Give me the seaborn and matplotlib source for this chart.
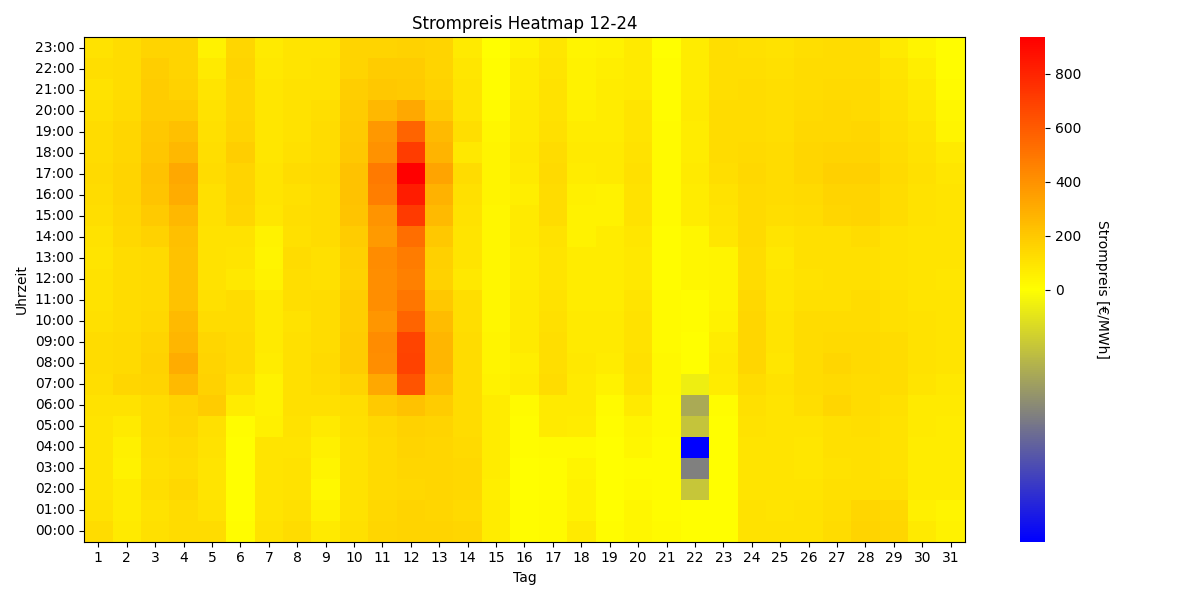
import numpy as np
import pandas as pd
import matplotlib
matplotlib.use('Agg')
import matplotlib.pyplot as plt
import seaborn as sns
from matplotlib.colors import LinearSegmentedColormap, TwoSlopeNorm

# Strompreise Dezember 2024, je Tag Stunde 00..23 (EUR/MWh), aus dem Bild geschaetzt
d01 = [125, 105, 100, 98, 97, 102, 108, 122, 130, 128, 112, 108, 104, 102, 105, 120, 126, 132, 130, 126, 112, 108, 118, 104]
d02 = [80, 72, 68, 50, 55, 75, 105, 150, 135, 132, 128, 125, 126, 130, 145, 150, 155, 158, 150, 148, 135, 130, 128, 125]
d03 = [110, 108, 120, 112, 122, 125, 130, 160, 165, 160, 140, 135, 132, 138, 165, 195, 215, 225, 212, 200, 190, 185, 180, 158]
d04 = [130, 125, 145, 128, 132, 150, 160, 250, 305, 270, 255, 225, 222, 225, 230, 258, 300, 315, 262, 228, 190, 165, 160, 155]
d05 = [125, 105, 100, 102, 105, 110, 185, 165, 160, 150, 130, 110, 108, 105, 104, 110, 112, 125, 122, 110, 106, 100, 80, 45]
d06 = [8, 5, 3, 4, 6, 10, 70, 110, 135, 132, 128, 125, 85, 100, 105, 150, 155, 160, 180, 158, 150, 152, 155, 150]
d07 = [105, 102, 100, 100, 98, 55, 50, 45, 72, 75, 78, 80, 45, 42, 48, 92, 96, 98, 95, 92, 90, 88, 85, 78]
d08 = [125, 110, 105, 104, 102, 106, 112, 115, 112, 110, 108, 120, 122, 125, 112, 120, 115, 125, 110, 108, 106, 104, 102, 100]
d09 = [80, 50, 25, 40, 55, 80, 110, 128, 132, 130, 128, 125, 110, 112, 125, 130, 128, 132, 130, 125, 120, 108, 105, 100]
d10 = [112, 108, 105, 104, 108, 115, 118, 160, 190, 188, 182, 178, 165, 175, 185, 215, 220, 225, 200, 195, 185, 180, 160, 155]
d11 = [150, 140, 135, 132, 135, 140, 195, 320, 410, 420, 385, 410, 415, 420, 370, 390, 470, 485, 400, 380, 260, 200, 190, 160]
d12 = [160, 155, 140, 150, 158, 165, 225, 625, 690, 685, 570, 500, 465, 480, 530, 720, 830, 936, 710, 565, 315, 195, 188, 162]
d13 = [158, 152, 150, 150, 152, 160, 190, 235, 270, 265, 245, 200, 165, 170, 200, 255, 280, 330, 275, 255, 195, 165, 160, 158]
d14 = [148, 132, 140, 145, 135, 130, 128, 126, 125, 128, 124, 120, 82, 98, 100, 105, 110, 125, 85, 120, 100, 98, 95, 80]
d15 = [70, 68, 65, 66, 70, 72, 68, 45, 40, 38, 35, 32, 30, 30, 32, 35, 40, 42, 38, 35, 15, 10, 8, 6]
d16 = [10, 8, 6, 5, 8, 12, 15, 70, 60, 75, 78, 76, 72, 70, 74, 78, 60, 80, 82, 78, 76, 72, 70, 50]
d17 = [20, 15, 12, 10, 15, 75, 80, 125, 122, 120, 110, 105, 100, 102, 105, 125, 130, 132, 125, 110, 108, 105, 100, 95]
d18 = [78, 50, 45, 40, 20, 70, 75, 80, 82, 78, 75, 72, 70, 68, 50, 48, 52, 72, 75, 70, 55, 48, 45, 40]
d19 = [8, 6, 5, 4, 5, 8, 15, 45, 72, 75, 76, 72, 70, 72, 70, 50, 48, 75, 78, 72, 70, 68, 65, 45]
d20 = [35, 30, 15, 12, 30, 40, 80, 105, 110, 108, 104, 100, 85, 82, 88, 105, 108, 110, 106, 102, 96, 80, 78, 75]
d21 = [15, 12, 10, 8, 10, 15, 20, 25, 22, 20, 18, 15, 12, 10, 12, 15, 18, 20, 18, 15, 12, 10, 8, 6]
d22 = [1, 0.5, -3.3, -7.5, -15, -3.5, -5.0, -1.0, 0.5, 5, 8, 10, 30, 32, 35, 70, 72, 75, 72, 70, 75, 72, 70, 68]
d23 = [6, 3, 2, 2, 3, 5, 8, 70, 75, 72, 45, 40, 38, 42, 95, 100, 105, 122, 125, 128, 125, 122, 120, 118]
d24 = [108, 104, 100, 98, 100, 104, 110, 128, 150, 152, 148, 145, 130, 128, 132, 135, 138, 140, 135, 130, 128, 125, 122, 110]
d25 = [105, 100, 98, 96, 98, 100, 102, 104, 90, 100, 98, 88, 95, 85, 100, 120, 125, 128, 125, 122, 120, 118, 115, 105]
d26 = [108, 104, 100, 90, 88, 100, 120, 128, 130, 130, 126, 112, 108, 110, 112, 128, 135, 150, 152, 145, 132, 128, 125, 122]
d27 = [125, 120, 110, 108, 110, 112, 150, 138, 150, 135, 130, 115, 112, 110, 115, 150, 158, 175, 160, 140, 145, 135, 130, 128]
d28 = [155, 150, 112, 110, 112, 120, 128, 130, 135, 132, 130, 128, 115, 112, 125, 155, 158, 175, 160, 150, 138, 132, 130, 128]
d29 = [150, 145, 110, 105, 104, 106, 112, 125, 130, 128, 115, 110, 105, 104, 108, 125, 130, 132, 128, 122, 112, 105, 100, 80]
d30 = [75, 55, 72, 70, 72, 75, 80, 100, 108, 106, 104, 100, 98, 100, 102, 105, 108, 110, 106, 102, 82, 80, 60, 40]
d31 = [45, 40, 70, 72, 70, 72, 75, 82, 100, 102, 100, 98, 95, 96, 98, 100, 102, 95, 80, 40, 30, 15, 10, 8]

tage = list(range(1, 32))
stunden = [f'{h:02d}:00' for h in range(24)]

alle_tage = [d01, d02, d03, d04, d05, d06, d07, d08, d09, d10, d11, d12, d13, d14, d15, d16,
             d17, d18, d19, d20, d21, d22, d23, d24, d25, d26, d27, d28, d29, d30, d31]
df = pd.DataFrame(np.array(alle_tage).T, index=stunden, columns=tage)
df = df.iloc[::-1]  # 23:00 oben

cmap = LinearSegmentedColormap.from_list('strompreis', ['blue', 'yellow', 'red'])
norm = TwoSlopeNorm(vcenter=0, vmin=df.values.min(), vmax=df.values.max())

fig, ax = plt.subplots(figsize=(12, 6), dpi=100)
sns.heatmap(df, cmap=cmap, norm=norm, ax=ax,
            xticklabels=tage, yticklabels=list(df.index))
cbar = ax.collections[0].colorbar
cbar.set_ticks([0, 200, 400, 600, 800])
cbar.set_label('Strompreis [€/MWh]', rotation=270, labelpad=20)
cbar.outline.set_visible(True)
cbar.outline.set_edgecolor('black')
for s in ax.spines.values():
    s.set_visible(True)

ax.set_title('Strompreis Heatmap 12-24')
ax.set_xlabel('Tag')
ax.set_ylabel('Uhrzeit')
plt.setp(ax.get_xticklabels(), rotation=0)
plt.setp(ax.get_yticklabels(), rotation=0)

plt.tight_layout()
plt.savefig('out.png', dpi=100)
